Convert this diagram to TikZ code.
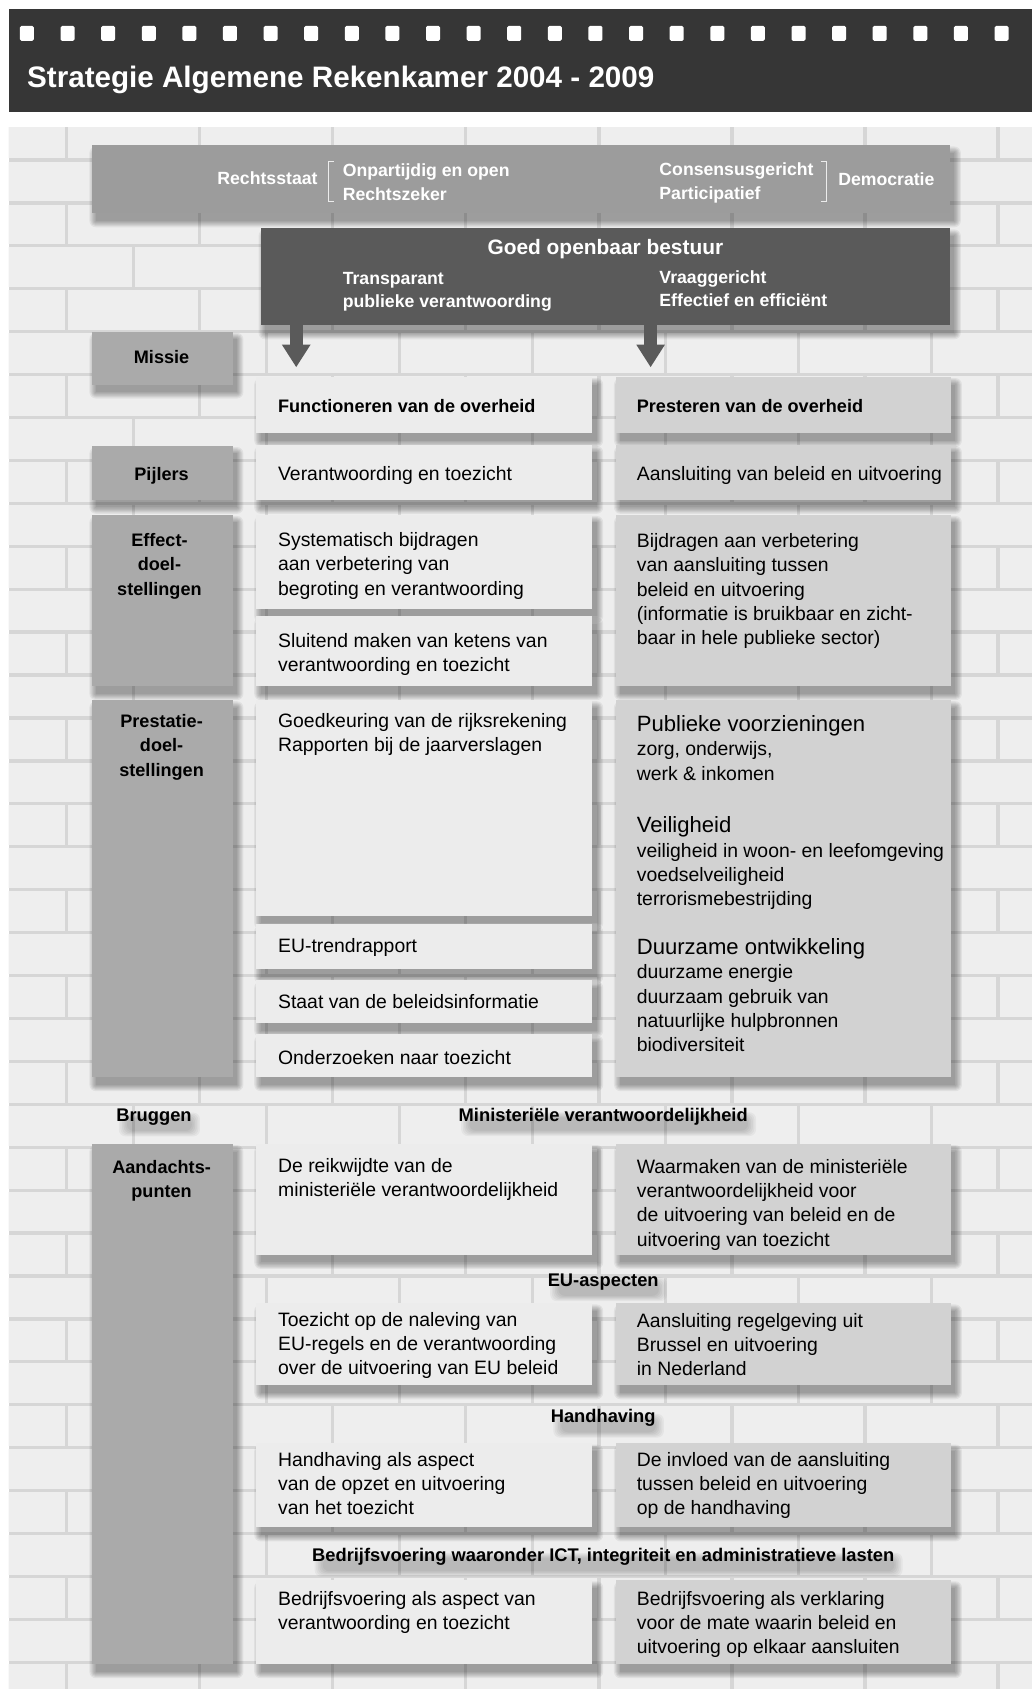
\documentclass[tikz,border=0pt]{standalone}
\usepackage{fontspec}
\setmainfont{Liberation Sans}
\usetikzlibrary{arrows.meta}
\definecolor{bandc}{HTML}{363636}
\definecolor{topc}{HTML}{9C9C9C}
\definecolor{darkc}{HTML}{5A5A5A}
\definecolor{labc}{HTML}{AAAAAA}
\definecolor{midc}{HTML}{ECECEC}
\definecolor{rightc}{HTML}{D2D2D2}
\definecolor{mortarc}{HTML}{D6D6D6}
\definecolor{brickc}{HTML}{EEEEEE}
\pgfdeclarelayer{wall}
\pgfdeclarelayer{tshadow}
\pgfsetlayers{wall,tshadow,main}
\newcommand\softshadow[4]{%
  \foreach \r in {0,...,6}{\fill[black, opacity=0.055, rounded corners=\r pt] (#1+4-\r,#2+7-\r) rectangle (#3+4+\r,#4+7+\r);}}
\newcommand\mybox[6]{\softshadow{#2}{#3}{#4}{#5}%
  \node[boxsty, fill=#6, minimum width={(#4-#2)*1pt}, minimum height={(#5-#3)*1pt}] (#1) at (#2,#3) {};}
\newcommand\mytxt[5]{\node[#1, anchor=north west] (#2) at (#3,#4-15.82) {\strut #5};}
\newcommand\mytxc[5]{\node[#1, anchor=north] (#2) at (#3,#4-15.82) {\strut #5};}
\newcommand\txshadow[1]{%
  \begin{pgfonlayer}{tshadow}
  \foreach \r in {0,...,5}{\fill[black, opacity=0.04, rounded corners=6pt]
    ([xshift={10pt-\r*1.5pt}, yshift={-1pt+\r*1pt}]#1.west) rectangle ([xshift={\r*1.5pt}, yshift={-13pt-\r*1pt}]#1.east);}
  \end{pgfonlayer}}
\tikzset{
  boxsty/.style={draw=none, inner sep=0pt, outer sep=0pt, anchor=north west},
  reg/.style={inner sep=0pt, align=left, text=black, font=\fontsize{18}{22.6}\selectfont},
  bld/.style={inner sep=0pt, align=left, text=black, font=\fontsize{16.8}{22.6}\selectfont\bfseries},
  lab/.style={inner sep=0pt, align=center, text=black, font=\fontsize{16.8}{22.6}\selectfont\bfseries},
  wht/.style={inner sep=0pt, align=left, text=white, font=\fontsize{16.4}{22}\selectfont\bfseries},
  head/.style={inner sep=0pt, anchor=base, text=black, font=\fontsize{17}{22.6}\selectfont\bfseries},
  bracket/.style={draw=white!85!gray, line width=0.9pt},
  bigarrow/.style={draw=darkc, line width=12pt, -{Triangle[width=25pt,length=21pt]}}
}
\begin{document}
\begin{tikzpicture}[x=1pt,y=-1pt]
\useasboundingbox (0,0) rectangle (958,1568);
\begin{pgfonlayer}{wall}
\fill[white] (0,0) rectangle (958,1568);
% header band
\fill[bandc] (8,8) rectangle (958,104);
\foreach \i in {0,...,24}{\fill[white, rounded corners=1.5pt] (18.5+37.7*\i,24) rectangle ++(13,14);}
% brick wall
\fill[mortarc] (8,118) rectangle (958,1568);
\begin{scope}
\clip (8,118) rectangle (958,1568);
\foreach \k in {0,...,37}{
  \pgfmathsetmacro\yt{108.65+39.85*\k}
  \pgfmathsetmacro\xo{mod(\k,2)*61.75-61.5}
  \foreach \j in {0,...,8}{
    \fill[brickc] (\xo+123.5*\j+1.5,\yt+1.5) rectangle (\xo+123.5*\j+122,\yt+38.3);
  }
}
\end{scope}
\end{pgfonlayer}
\node[anchor=base west, text=white, inner sep=0pt, font=\fontsize{27.5}{30}\selectfont\bfseries] (title) at (25,81) {Strategie Algemene Rekenkamer 2004 - 2009};
% top box
\mybox{tb}{85}{135}{882}{198}{topc}
\node[wht, anchor=base east] (rs) at (295,171) {Rechtsstaat};
\mytxt{wht}{op}{318}{164}{Onpartijdig en open\\Rechtszeker}
\mytxt{wht}{cs}{612}{163}{Consensusgericht\\Participatief}
\node[wht, anchor=base west] (dm) at (778,172) {Democratie};
\draw[bracket] (310,150) -- (305,150) -- (305,187) -- (310,187);
\draw[bracket] (762,150) -- (767,150) -- (767,187) -- (762,187);
% dark box
\mybox{gob}{242}{212}{882}{302}{darkc}
\node[inner sep=0pt, anchor=base, text=white, font=\fontsize{19.4}{22}\selectfont\bfseries] (gobt) at (562,236) {Goed openbaar bestuur};
\mytxt{wht}{tr}{318}{264}{Transparant\\publieke verantwoording}
\mytxt{wht}{vr}{612}{263}{Vraaggericht\\Effectief en efficiënt}
% left labels
\mybox{lm}{85}{308}{216}{357}{labc}
\mybox{lp}{85}{414}{216}{464}{labc}
\mybox{le}{85}{478}{216}{637}{labc}
\mybox{lpr}{85}{650}{216}{1000}{labc}
\mybox{la}{85}{1062}{216}{1545}{labc}
\node[lab, anchor=base] (lmt) at (150,337) {Missie};
\node[lab, anchor=base] (lpt) at (150,446) {Pijlers};
\mytxc{lab}{let}{148}{507}{Effect-\\doel-\\stellingen}
\mytxc{lab}{lprt}{150}{675}{Prestatie-\\doel-\\stellingen}
\node[head] (br) at (143,1041) {Bruggen};
\txshadow{br}
\mytxc{lab}{lat}{150}{1089}{Aandachts-\\punten}
% middle column
\mybox{m1}{238}{350}{550}{402}{midc}
\mybox{m2}{238}{413}{550}{464}{midc}
\mybox{m3}{238}{478}{550}{565}{midc}
\mybox{m4}{238}{572}{550}{637}{midc}
\mybox{m5}{238}{650}{550}{850}{midc}
\mybox{m6}{238}{858}{550}{900}{midc}
\mybox{m7}{238}{910}{550}{950}{midc}
\mybox{m8}{238}{960}{550}{1000}{midc}
\mybox{m9}{238}{1062}{550}{1165}{midc}
\mybox{m10}{238}{1210}{550}{1286}{midc}
\mybox{m11}{238}{1340}{550}{1418}{midc}
\mybox{m12}{238}{1467}{550}{1545}{midc}
% right column
\mybox{r1}{572}{350}{883}{402}{rightc}
\mybox{r2}{572}{413}{883}{464}{rightc}
\mybox{r3}{572}{478}{883}{637}{rightc}
\mybox{r4}{572}{650}{883}{1000}{rightc}
\mybox{r5}{572}{1062}{883}{1165}{rightc}
\mybox{r6}{572}{1210}{883}{1286}{rightc}
\mybox{r7}{572}{1340}{883}{1418}{rightc}
\mybox{r8}{572}{1467}{883}{1545}{rightc}
% arrows
\coordinate (a1) at (275,341);
\coordinate (a2) at (604,341);
\draw[bigarrow] (gob.south -| a1) -- (a1);
\draw[bigarrow] (gob.south -| a2) -- (a2);
% middle texts
\node[bld, anchor=base west] (m1t) at (258,383) {Functioneren van de overheid};
\node[reg, anchor=base west] (m2t) at (258,446) {Verantwoording en toezicht};
\mytxt{reg}{m3t}{258}{507}{Systematisch bijdragen\\aan verbetering van\\begroting en verantwoording}
\mytxt{reg}{m4t}{258}{601}{Sluitend maken van ketens van\\verantwoording en toezicht}
\mytxt{reg}{m5t}{258}{675}{Goedkeuring van de rijksrekening\\Rapporten bij de jaarverslagen}
\node[reg, anchor=base west] (m6t) at (258,884) {EU-trendrapport};
\node[reg, anchor=base west] (m7t) at (258,936) {Staat van de beleidsinformatie};
\node[reg, anchor=base west] (m8t) at (258,988) {Onderzoeken naar toezicht};
\mytxt{reg}{m9t}{258}{1088}{De reikwijdte van de\\ministeriële verantwoordelijkheid}
\mytxt{reg}{m10t}{258}{1231}{Toezicht op de naleving van\\EU-regels en de verantwoording\\over de uitvoering van EU beleid}
\mytxt{reg}{m11t}{258}{1361}{Handhaving als aspect\\van de opzet en uitvoering\\van het toezicht}
\mytxt{reg}{m12t}{258}{1490}{Bedrijfsvoering als aspect van\\verantwoording en toezicht}
% right texts
\node[bld, anchor=base west] (r1t) at (591,383) {Presteren van de overheid};
\node[reg, anchor=base west] (r2t) at (591,446) {Aansluiting van beleid en uitvoering};
\mytxt{reg}{r3t}{591}{508}{Bijdragen aan verbetering\\van aansluiting tussen\\beleid en uitvoering\\(informatie is bruikbaar en zicht-\\baar in hele publieke sector)}
\mytxt{reg}{r4a}{591}{679}{{\fontsize{20.5}{22.6}\selectfont Publieke voorzieningen}\\zorg, onderwijs,\\werk \& inkomen}
\mytxt{reg}{r4b}{591}{773}{{\fontsize{20.5}{22.6}\selectfont Veiligheid}\\veiligheid in woon- en leefomgeving\\voedselveiligheid\\terrorismebestrijding}
\mytxt{reg}{r4c}{591}{886}{{\fontsize{20.5}{22.6}\selectfont Duurzame ontwikkeling}\\duurzame energie\\duurzaam gebruik van\\natuurlijke hulpbronnen\\biodiversiteit}
\mytxt{reg}{r5t}{591}{1089}{Waarmaken van de ministeriële\\verantwoordelijkheid voor\\de uitvoering van beleid en de\\uitvoering van toezicht}
\mytxt{reg}{r6t}{591}{1232}{Aansluiting regelgeving uit\\Brussel en uitvoering\\in Nederland}
\mytxt{reg}{r7t}{591}{1361}{De invloed van de aansluiting\\tussen beleid en uitvoering\\op de handhaving}
\mytxt{reg}{r8t}{591}{1490}{Bedrijfsvoering als verklaring\\voor de mate waarin beleid en\\uitvoering op elkaar aansluiten}
% bridge headings
\node[head] (h1) at (560,1041) {Ministeriële verantwoordelijkheid};
\node[head] (h2) at (560,1194) {EU-aspecten};
\node[head] (h3) at (560,1321) {Handhaving};
\node[head] (h4) at (560,1450) {Bedrijfsvoering waaronder ICT, integriteit en administratieve lasten};
\txshadow{h1}
\txshadow{h2}
\txshadow{h3}
\txshadow{h4}
\end{tikzpicture}
\end{document}
